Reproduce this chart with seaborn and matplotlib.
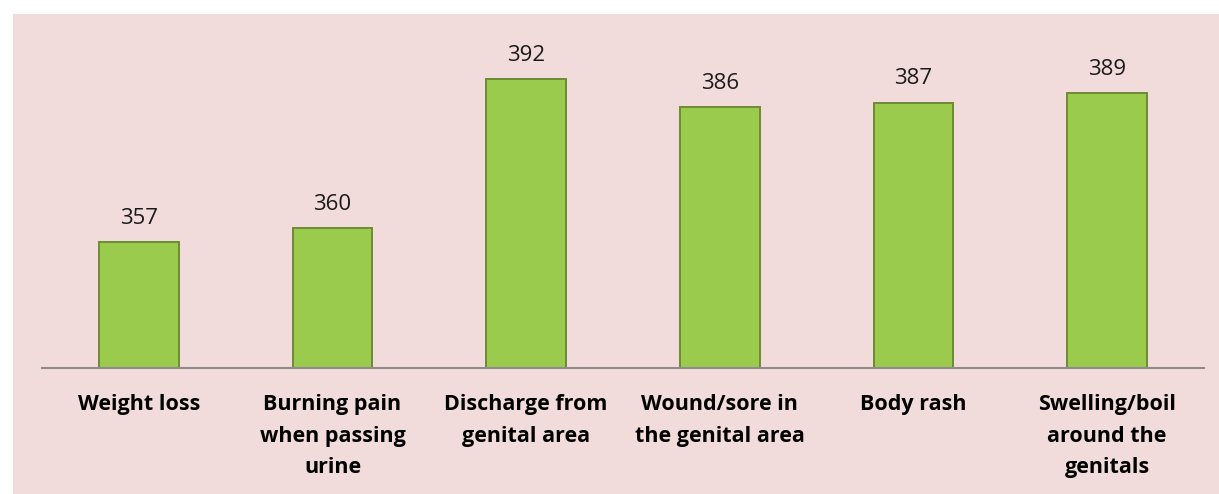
import matplotlib
matplotlib.use("Agg")
import matplotlib.pyplot as plt
import seaborn as sns
import pandas as pd
from matplotlib.patches import Rectangle

categories = ["Weight loss", "Burning pain\nwhen passing\nurine", "Discharge from\ngenital area",
              "Wound/sore in\nthe genital area", "Body rash", "Swelling/boil\naround the\ngenitals"]
values = [357, 360, 392, 386, 387, 389]

df = pd.DataFrame({"cat": categories, "val": values})

sns.set_theme(style="white")
plt.rcParams['font.family'] = ['Open Sans', 'DejaVu Sans']

fig = plt.figure(figsize=(12.19, 4.94), dpi=100, facecolor="white")
bg = Rectangle((13/1219, 0), 1 - 13/1219, 1 - 14/494, transform=fig.transFigure,
               facecolor="#F2DCDB", edgecolor="none", zorder=-10)
fig.patches.append(bg)
ax = fig.add_axes([42/1219, 1 - 368/494, (1204 - 42)/1219, (368 - 30)/494])
ax.set_facecolor("none")
ax.set_zorder(1)

sns.barplot(data=df, x="cat", y="val", ax=ax, color="#9BCB4C", width=0.41,
            edgecolor="#6E8B34", linewidth=1.4, saturation=1)

ax.set_ylim(330, 402.6)
ax.set_xlim(-0.5, len(categories) - 0.5)
for c in ax.containers:
    ax.bar_label(c, labels=[str(v) for v in values], padding=9.5, fontsize=16, color="#1a1a1a")

ax.set_xlabel("")
ax.set_ylabel("")
ax.set_yticks([])
for s in ["top", "right", "left"]:
    ax.spines[s].set_visible(False)
ax.spines["bottom"].set_color("#8C8C8C")
ax.spines["bottom"].set_linewidth(1.5)
ax.tick_params(axis="x", length=0, pad=19)
for lbl in ax.get_xticklabels():
    lbl.set_fontweight("bold")
    lbl.set_fontsize(15.5)
    lbl.set_color("black")
    lbl.set_linespacing(1.65)
    lbl.set_va("top")

fig.savefig("out.png", dpi=100, facecolor="white")
